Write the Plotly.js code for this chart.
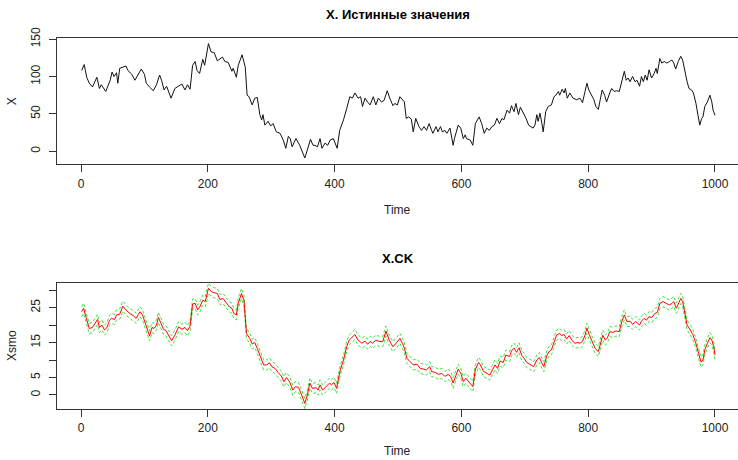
<!DOCTYPE html>
<html>
<head>
<meta charset="utf-8">
<script src="https://cdn.plot.ly/plotly-3.0.1.min.js"></script>
<style>html,body{margin:0;padding:0;background:#fff;}#chart{width:738px;height:460px;}</style>
</head>
<body>
<div id="chart"></div>
<script>
// ---- Data ----
const topTitle = "X. Истинные значения";
const bottomTitle = "X.CK";
const xAxisLabel = "Time";
const topYLabel = "X";
const bottomYLabel = "Xsmo";

const xTime = [1,5,9,13,18,25,29,32,39,46,49,52,56,58,61,66,71,74,80,85,88,95,100,103,108,114,119,124,127,131,135,142,148,154,159,164,168,172,176,180,183,187,192,195,201,205,210,215,219,223,227,232,238,240,245,248,254,259,262,265,270,274,278,282,285,287,290,295,299,303,308,314,319,323,327,330,333,336,339,345,349,353,357,362,366,369,373,377,380,385,389,393,398,401,404,408,414,419,424,428,432,437,441,444,448,452,456,461,465,469,474,478,483,487,492,495,499,503,507,510,513,517,521,524,528,533,537,541,545,549,553,555,560,563,567,570,574,577,582,584,587,589,595,599,603,606,608,614,618,622,625,628,632,636,640,644,648,652,656,660,664,667,672,676,679,683,686,690,693,698,702,706,709,713,716,719,721,724,727,729,733,737,742,746,749,753,755,759,762,764,767,771,776,782,787,791,795,798,801,805,809,812,816,819,822,826,829,834,837,841,845,849,853,857,860,863,866,870,874,877,881,884,887,890,893,896,900,904,907,909,913,916,920,924,928,932,935,938,942,946,949,952,956,959,963,966,970,973,976,979,981,984,988,992,995,997,1000];
const xValue = [108,116,99,91,86,99,84,89,80,95,106,100,105,91,111,113,114,108,103,95,100,110,103,91,86,81,89,102,95,82,87,71,84,87,90,82,89,83,115,120,108,104,123,115,144,133,132,121,123,126,120,119,107,111,99,115,129,113,75,73,62,71,72,49,42,49,35,40,34,37,26,24,15,4,20,17,6,11,17,8,0,-9,2,16,8,8,6,17,4,11,8,15,17,11,4,28,42,57,73,71,78,71,73,60,71,66,62,73,62,71,66,68,81,71,61,64,62,73,69,66,44,46,43,26,44,33,28,33,28,37,28,24,33,26,33,26,28,24,31,20,8,17,35,31,17,22,17,15,8,37,42,46,37,24,31,28,33,35,44,37,44,42,55,51,61,53,64,49,59,51,44,35,33,31,35,49,40,51,37,26,53,60,62,73,75,80,75,83,78,84,71,78,71,69,71,65,80,91,82,75,69,60,56,69,82,75,66,78,84,80,81,80,93,107,95,98,93,100,93,95,87,100,93,102,95,109,98,104,111,104,124,118,120,118,120,122,118,110,120,127,122,107,93,84,82,78,64,49,35,44,46,60,66,75,66,55,48];

const smoTime = [1,4,8,13,18,22,26,29,33,37,41,45,48,53,56,61,66,71,77,83,87,90,93,97,101,104,108,112,115,119,122,126,130,134,139,143,148,154,159,164,168,172,176,180,184,188,192,196,201,206,211,215,219,224,229,234,238,241,245,248,253,257,261,266,270,274,278,282,288,293,297,301,306,311,316,320,324,329,334,338,343,348,353,357,361,365,371,374,377,381,386,392,395,399,403,409,414,419,423,427,432,437,443,448,452,456,460,465,471,476,481,486,492,497,503,507,510,514,519,524,530,535,540,545,550,553,558,564,569,574,579,583,587,592,595,599,603,607,611,615,618,622,627,630,635,640,645,649,653,657,661,666,670,676,679,683,687,691,695,699,703,708,714,719,723,727,730,735,739,742,746,750,755,758,762,766,770,774,779,784,787,791,795,798,802,806,811,816,820,823,827,830,834,839,844,849,853,857,861,866,870,875,881,884,888,892,896,900,905,909,913,918,923,928,932,935,939,942,946,949,953,956,961,965,969,972,975,978,981,984,988,992,995,998,1000];
const smoValue = [23.8,24.8,22.2,19.0,19.3,20.5,21.6,19.3,20.0,18.6,19.3,21.4,21.9,21.6,22.9,23.1,25.4,24.3,23.3,22.6,21.9,22.9,23.8,22.9,20.5,18.8,16.9,19.3,19.0,20.0,22.2,20.5,18.8,18.4,16.7,15.5,17.1,19.5,18.8,19.3,18.4,19.7,26.0,26.2,24.3,25.4,27.1,26.7,30.5,29.5,29.2,29.0,27.3,27.6,26.4,25.2,24.8,23.3,22.9,26.2,29.0,27.1,17.6,16.2,14.6,15.0,13.3,11.4,8.6,8.6,9.2,8.1,7.6,6.4,5.4,3.8,5.0,3.8,1.4,2.4,2.2,0.0,-2.4,0.0,3.4,1.9,2.1,1.4,2.9,1.4,2.4,3.4,2.9,3.6,1.9,7.2,10.0,13.8,15.7,16.4,17.3,15.7,14.8,15.4,14.5,15.3,14.8,15.7,15.3,15.3,18.3,15.7,13.8,14.8,16.2,14.8,13.4,10.5,9.6,8.6,8.8,7.6,7.4,7.2,8.1,6.7,6.5,5.9,6.2,5.3,5.9,5.3,3.4,5.7,7.4,6.2,3.8,4.8,4.0,2.9,2.4,7.2,9.3,8.6,6.7,6.2,5.7,7.2,8.6,7.6,9.7,9.3,11.4,11.0,12.6,13.4,12.2,13.5,11.4,10.5,9.3,8.8,8.1,10.0,10.7,9.1,8.1,11.4,12.6,12.9,15.3,17.1,17.6,17.0,17.3,16.0,17.0,15.7,14.8,15.0,14.8,15.3,17.1,19.1,17.1,15.3,13.3,12.4,15.3,17.1,15.7,16.2,18.1,17.9,18.3,18.1,21.0,22.9,21.0,21.1,20.2,21.0,20.0,21.1,21.9,21.4,22.4,22.1,23.3,23.6,26.2,26.7,26.2,25.7,26.2,26.7,24.8,26.2,27.6,26.7,23.3,20.0,18.6,17.3,15.3,13.3,11.0,9.4,10.0,12.9,14.8,16.4,15.7,13.8,11.4];
// half-width of the green confidence band
const ciHalfWidth = 1.45;

const xTicks = [0,200,400,600,800,1000];
const topYTicks = [0,50,100,150];
const bottomYTicks = [0,5,10,15,20,25,30];
const bottomYTickText = ["0","5","","15","","25",""];

// ---- Chart ----
const smoUpper = smoValue.map(v => v + ciHalfWidth);
const smoLower = smoValue.map(v => v - ciHalfWidth);

const green = "#3ee23e";
const traces = [
  {x: xTime, y: xValue, type: "scatter", mode: "lines", line: {color: "#111", width: 1}, xaxis: "x", yaxis: "y", hoverinfo: "skip"},
  {x: smoTime, y: smoUpper, type: "scatter", mode: "lines", line: {color: green, width: 1, dash: "3px,2px"}, xaxis: "x2", yaxis: "y2", hoverinfo: "skip"},
  {x: smoTime, y: smoLower, type: "scatter", mode: "lines", line: {color: green, width: 1, dash: "3px,2px"}, xaxis: "x2", yaxis: "y2", hoverinfo: "skip"},
  {x: smoTime, y: smoValue, type: "scatter", mode: "lines", line: {color: "#ff0000", width: 1}, xaxis: "x2", yaxis: "y2", hoverinfo: "skip"}
];

const FONT = "Liberation Sans, Arial, sans-serif";
const axCol = "#333";
const baseX = {
  range: [-37.9, 1036.3], tickvals: xTicks, ticks: "outside", ticklen: 7, tickcolor: axCol,
  showline: true, mirror: true, linecolor: axCol, linewidth: 1, showgrid: false, zeroline: false,
  tickfont: {family: FONT, size: 12, color: "#222"}, automargin: false, fixedrange: true,
  ticklabelstandoff: 1
};
const baseY = {
  ticks: "outside", ticklen: 7, tickcolor: axCol, tickangle: -90,
  showline: true, mirror: false, linecolor: axCol, linewidth: 1, showgrid: false, zeroline: false,
  tickfont: {family: FONT, size: 12, color: "#222"}, automargin: false, fixedrange: true,
  ticklabelstandoff: 4
};

const layout = {
  width: 738, height: 460,
  margin: {l: 57, r: 0, t: 0, b: 0},
  paper_bgcolor: "#fff", plot_bgcolor: "#fff",
  showlegend: false,
  xaxis: Object.assign({}, baseX, {anchor: "y"}),
  yaxis: Object.assign({}, baseY, {anchor: "x", domain: [0.6428, 0.9167], range: [-17.4, 151.07], tickvals: topYTicks}),
  xaxis2: Object.assign({}, baseX, {anchor: "y2"}),
  yaxis2: Object.assign({}, baseY, {anchor: "x2", domain: [0.1109, 0.3854], range: [-4.0, 32.1], tickvals: bottomYTicks, ticktext: bottomYTickText}),
  annotations: [
    {text: "<b>" + topTitle + "</b>", xref: "paper", yref: "paper", x: 0.5, y: 1 - 14/460, xanchor: "center", yanchor: "middle", showarrow: false, font: {family: FONT, size: 13, color: "#000"}},
    {text: "<b>" + bottomTitle + "</b>", xref: "paper", yref: "paper", x: 0.5, y: 1 - 258/460, xanchor: "center", yanchor: "middle", showarrow: false, font: {family: FONT, size: 13, color: "#000"}},
    {text: xAxisLabel, xref: "paper", yref: "paper", x: 0.5, y: 1 - 210/460, xanchor: "center", yanchor: "middle", showarrow: false, font: {family: FONT, size: 12, color: "#222"}},
    {text: xAxisLabel, xref: "paper", yref: "paper", x: 0.5, y: 1 - 451/460, xanchor: "center", yanchor: "middle", showarrow: false, font: {family: FONT, size: 12, color: "#222"}},
    {text: topYLabel, xref: "paper", yref: "paper", x: (12 - 57)/681, y: 1 - 101.3/460, xanchor: "center", yanchor: "middle", textangle: -90, showarrow: false, font: {family: FONT, size: 12, color: "#222"}},
    {text: bottomYLabel, xref: "paper", yref: "paper", x: (12 - 57)/681, y: 1 - 345.9/460, xanchor: "center", yanchor: "middle", textangle: -90, showarrow: false, font: {family: FONT, size: 12, color: "#222"}}
  ]
};

Plotly.newPlot("chart", traces, layout, {staticPlot: true, displayModeBar: false});
</script>
</body>
</html>
